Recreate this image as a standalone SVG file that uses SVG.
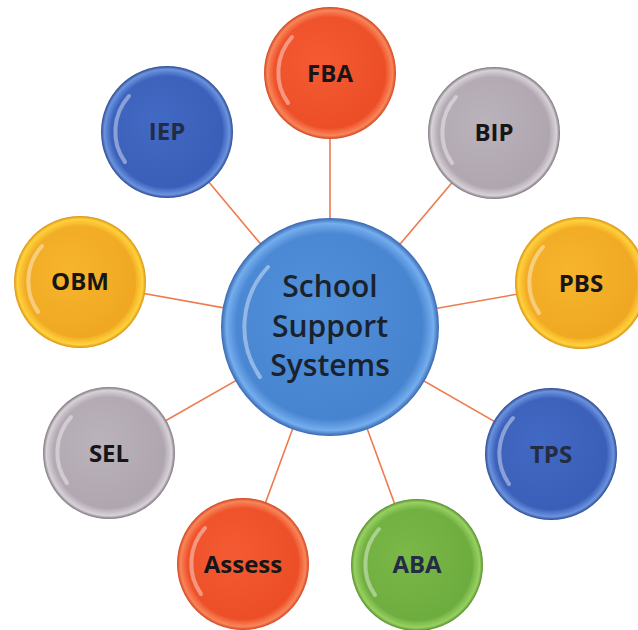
<svg xmlns="http://www.w3.org/2000/svg" width="638" height="630" viewBox="0 0 638 630">
<style>
.conn line{stroke:#ee7a4e;stroke-width:1.6}
.lbl{font-family:"Open Sans","Noto Sans","Liberation Sans",sans-serif;font-weight:700;font-size:24px;text-anchor:middle;fill:#161616}
.lblb{fill:#242c44}
.ctr{font-family:"Open Sans","Noto Sans","Liberation Sans",sans-serif;font-weight:600;font-size:30px;text-anchor:middle;fill:#1a222c}
.hl{fill:none;stroke:#ffffff;stroke-opacity:.4;stroke-width:4;stroke-linecap:round}
</style>
<defs>
<radialGradient id="rRed" cx="50%" cy="50%" r="50%"><stop offset="0.85" stop-color="#f0552e"/><stop offset="0.95" stop-color="#f8865a"/><stop offset="1" stop-color="#d2441f"/></radialGradient>
<radialGradient id="iRed" cx="40%" cy="40%" r="60%"><stop offset="0" stop-color="#f45a33"/><stop offset="1" stop-color="#ec4f28"/></radialGradient>
<radialGradient id="rGray" cx="50%" cy="50%" r="50%"><stop offset="0.85" stop-color="#b5acb5"/><stop offset="0.95" stop-color="#d8d2d8"/><stop offset="1" stop-color="#7d757d"/></radialGradient>
<radialGradient id="iGray" cx="40%" cy="40%" r="60%"><stop offset="0" stop-color="#bbb3bb"/><stop offset="1" stop-color="#afa6af"/></radialGradient>
<radialGradient id="rYel" cx="50%" cy="50%" r="50%"><stop offset="0.85" stop-color="#f4b028"/><stop offset="0.95" stop-color="#ffd23a"/><stop offset="1" stop-color="#d99318"/></radialGradient>
<radialGradient id="iYel" cx="40%" cy="40%" r="60%"><stop offset="0" stop-color="#f6b52c"/><stop offset="1" stop-color="#f0a822"/></radialGradient>
<radialGradient id="rBlue" cx="50%" cy="50%" r="50%"><stop offset="0.85" stop-color="#3e64bf"/><stop offset="0.95" stop-color="#6b93dc"/><stop offset="1" stop-color="#2c4994"/></radialGradient>
<radialGradient id="iBlue" cx="40%" cy="40%" r="60%"><stop offset="0" stop-color="#4269c4"/><stop offset="1" stop-color="#3a5fb8"/></radialGradient>
<radialGradient id="rGrn" cx="50%" cy="50%" r="50%"><stop offset="0.85" stop-color="#74b444"/><stop offset="0.95" stop-color="#98d062"/><stop offset="1" stop-color="#578e2e"/></radialGradient>
<radialGradient id="iGrn" cx="40%" cy="40%" r="60%"><stop offset="0" stop-color="#7ab948"/><stop offset="1" stop-color="#6dac3e"/></radialGradient>
<radialGradient id="rCtr" cx="50%" cy="50%" r="50%"><stop offset="0.86" stop-color="#4c88d4"/><stop offset="0.95" stop-color="#74aeee"/><stop offset="1" stop-color="#3866b0"/></radialGradient>
<radialGradient id="iCtr" cx="40%" cy="40%" r="60%"><stop offset="0" stop-color="#5190da"/><stop offset="1" stop-color="#4784d0"/></radialGradient>
</defs>
<rect width="638" height="630" fill="#ffffff"/>
<g id="connectors" class="conn">
<line x1="330" y1="327" x2="330" y2="73"/>
<line x1="330" y1="327" x2="494" y2="133"/>
<line x1="330" y1="327" x2="581" y2="283"/>
<line x1="330" y1="327" x2="551" y2="454"/>
<line x1="330" y1="327" x2="417" y2="565"/>
<line x1="330" y1="327" x2="243" y2="564"/>
<line x1="330" y1="327" x2="109" y2="453"/>
<line x1="330" y1="327" x2="80" y2="282"/>
<line x1="330" y1="327" x2="167" y2="132"/>
</g>
<g id="center" transform="translate(330,327)">
<circle r="109" fill="url(#rCtr)"/>
<circle r="93" fill="url(#iCtr)"/>
<path class="hl" d="M-62,-60 A88,88 0 0 0 -70,50"/>
<text class="ctr" y="-30">School</text>
<text class="ctr" y="10">Support</text>
<text class="ctr" y="49">Systems</text>
</g>
<g id="fba" transform="translate(330,73)">
<circle r="66" fill="url(#rRed)"/><circle r="56" fill="url(#iRed)"/>
<path class="hl" d="M-38,-36 A53,53 0 0 0 -42,30" stroke="#ffe08a"/>
<text class="lbl" y="9">FBA</text>
</g>
<g id="bip" transform="translate(494,133)">
<circle r="66" fill="url(#rGray)"/><circle r="56" fill="url(#iGray)"/>
<path class="hl" d="M-38,-36 A53,53 0 0 0 -42,30"/>
<text class="lbl" y="8">BIP</text>
</g>
<g id="pbs" transform="translate(581,283)">
<circle r="66" fill="url(#rYel)"/><circle r="56" fill="url(#iYel)"/>
<path class="hl" d="M-38,-36 A53,53 0 0 0 -42,30" stroke="#ffee40"/>
<text class="lbl" y="9">PBS</text>
</g>
<g id="tps" transform="translate(551,454)">
<circle r="66" fill="url(#rBlue)"/><circle r="56" fill="url(#iBlue)"/>
<path class="hl" d="M-38,-36 A53,53 0 0 0 -42,30"/>
<text class="lbl lblb" y="9">TPS</text>
</g>
<g id="aba" transform="translate(417,565)">
<circle r="66" fill="url(#rGrn)"/><circle r="56" fill="url(#iGrn)"/>
<path class="hl" d="M-38,-36 A53,53 0 0 0 -42,30"/>
<text class="lbl lblb" y="8">ABA</text>
</g>
<g id="assess" transform="translate(243,564)">
<circle r="66" fill="url(#rRed)"/><circle r="56" fill="url(#iRed)"/>
<path class="hl" d="M-38,-36 A53,53 0 0 0 -42,30" stroke="#ffe08a"/>
<text class="lbl" y="9">Assess</text>
</g>
<g id="sel" transform="translate(109,453)">
<circle r="66" fill="url(#rGray)"/><circle r="56" fill="url(#iGray)"/>
<path class="hl" d="M-38,-36 A53,53 0 0 0 -42,30"/>
<text class="lbl" y="9">SEL</text>
</g>
<g id="obm" transform="translate(80,282)">
<circle r="66" fill="url(#rYel)"/><circle r="56" fill="url(#iYel)"/>
<path class="hl" d="M-38,-36 A53,53 0 0 0 -42,30" stroke="#ffee40"/>
<text class="lbl" y="8">OBM</text>
</g>
<g id="iep" transform="translate(167,132)">
<circle r="66" fill="url(#rBlue)"/><circle r="56" fill="url(#iBlue)"/>
<path class="hl" d="M-38,-36 A53,53 0 0 0 -42,30"/>
<text class="lbl lblb" y="8">IEP</text>
</g>
</svg>
